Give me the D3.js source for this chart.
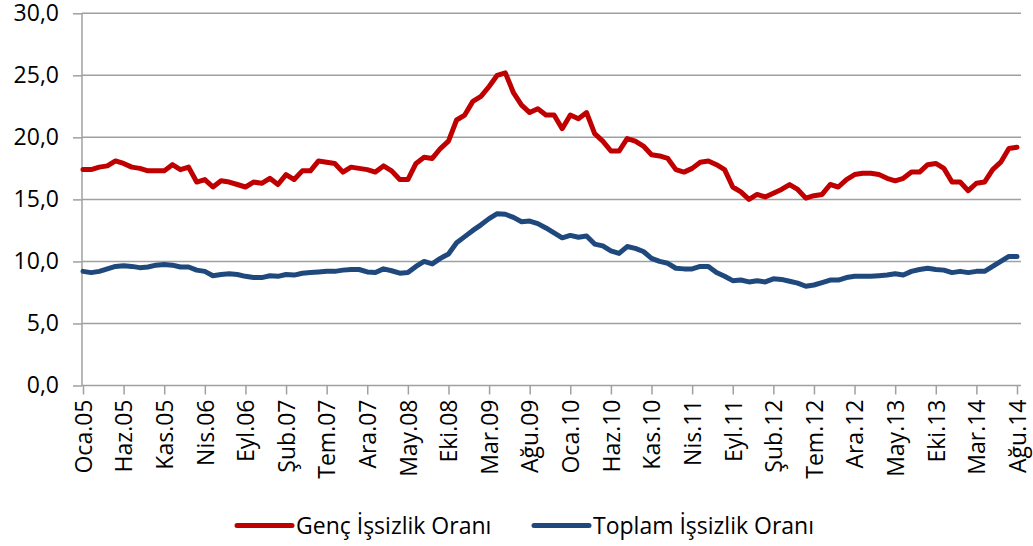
<!DOCTYPE html>
<html>
<head>
<meta charset="utf-8">
<script src="https://cdn.jsdelivr.net/npm/d3@7"></script>
<style>
  html, body { margin: 0; padding: 0; background: #fff; }
  svg { display: block; }
  text { font-family: "Open Sans", sans-serif; fill: #000; }
</style>
</head>
<body>
<svg id="chart" width="1033" height="546"></svg>
<script>
// ---- data ----
const monthNames = ["Oca","Şub","Mar","Nis","May","Haz","Tem","Ağu","Eyl","Eki","Kas","Ara"];
const years = ["05","06","07","08","09","10","11","12","13","14"];
const categories = [];
years.forEach(y => monthNames.forEach(m => categories.push(m + "." + y)));
categories.length = 116; // Oca.05 .. Ağu.14

const tickLabels = ["Oca.05","Haz.05","Kas.05","Nis.06","Eyl.06","Şub.07","Tem.07","Ara.07",
  "May.08","Eki.08","Mar.09","Ağu.09","Oca.10","Haz.10","Kas.10","Nis.11","Eyl.11","Şub.12",
  "Tem.12","Ara.12","May.13","Eki.13","Mar.14","Ağu.14"];

const yTicks = [0, 5, 10, 15, 20, 25, 30];

const gencIssizlik = [
  17.4,17.4,17.6,17.7,18.1,17.9,17.6,17.5,17.3,17.3,17.3,17.8,17.4,17.6,16.4,16.6,16.0,16.5,16.4,16.2,16.0,16.4,16.3,16.7,16.2,17.0,16.6,17.3,17.3,
  18.1,18.0,17.9,17.2,17.6,17.5,17.4,17.2,17.7,17.3,16.6,16.6,17.9,18.4,18.3,19.1,19.7,21.4,21.8,22.9,23.3,24.1,25.0,25.2,23.6,22.6,22.0,22.3,21.8,
  21.8,20.7,21.8,21.5,22.0,20.3,19.7,18.9,18.9,19.9,19.7,19.3,18.6,18.5,18.3,17.4,17.2,17.5,18.0,18.1,17.8,17.4,16.0,15.6,15.0,15.4,15.2,15.5,15.8,
  16.2,15.8,15.1,15.3,15.4,16.2,16.0,16.6,17.0,17.1,17.1,17.0,16.7,16.5,16.7,17.2,17.2,17.8,17.9,17.5,16.4,16.4,15.7,16.3,16.4,17.4,18.0,19.1,19.2
];

const toplamIssizlik = [
  9.2,9.1,9.2,9.4,9.6,9.65,9.6,9.5,9.55,9.7,9.75,9.7,9.55,9.55,9.3,9.2,8.85,8.95,9.0,8.95,8.8,8.7,8.7,8.85,8.8,8.95,8.9,9.05,9.1,
  9.15,9.2,9.2,9.3,9.35,9.35,9.15,9.1,9.4,9.25,9.05,9.1,9.6,10.0,9.8,10.25,10.6,11.5,12.0,12.5,12.95,13.45,13.85,13.8,13.55,13.2,13.25,13.05,12.7,
  12.3,11.9,12.1,11.95,12.05,11.4,11.25,10.85,10.65,11.2,11.05,10.8,10.25,10.0,9.85,9.45,9.4,9.4,9.6,9.6,9.1,8.8,8.45,8.5,8.35,8.45,8.35,8.6,8.55,
  8.4,8.25,8.0,8.1,8.3,8.5,8.5,8.7,8.8,8.8,8.8,8.85,8.9,9.0,8.9,9.2,9.35,9.45,9.35,9.3,9.1,9.2,9.1,9.2,9.2,9.6,10.0,10.4,10.4
];

const seriesNames = ["Genç İşsizlik Oranı", "Toplam İşsizlik Oranı"];
const seriesColors = ["#C00000", "#1F497D"];

// ---- chart ----
const svg = d3.select("#chart");
const fontSize = 23;
const gridColor = "#a0a0a0";

const x = d3.scalePoint().domain(categories).range([83, 1017]);
const y = d3.scaleLinear().domain([0, 30]).range([385.5, 13.3]);
const fmt = v => d3.format(".1f")(v).replace(".", ",");

// gridlines
svg.append("g").selectAll("line").data(yTicks.filter(d => d > 0)).join("line")
  .attr("x1", 82).attr("x2", 1021)
  .attr("y1", d => y(d)).attr("y2", d => y(d))
  .attr("stroke", gridColor).attr("stroke-width", 1.5);

// y axis
const yAxis = d3.axisLeft(y).tickValues(yTicks).tickSize(9).tickPadding(14).tickFormat(fmt);
const gy = svg.append("g").attr("transform", "translate(82,0)").call(yAxis);
gy.select(".domain").attr("stroke", gridColor).attr("stroke-width", 1.5).attr("d", `M0,${y(30)}V${y(0)}`);
gy.selectAll(".tick line").attr("stroke", gridColor).attr("stroke-width", 1.5);
gy.selectAll(".tick text").attr("font-size", fontSize).attr("font-family", "Open Sans").attr("fill", "#000");

// x axis
const xAxis = d3.axisBottom(x).tickValues(tickLabels).tickSize(9).tickSizeOuter(0);
const gx = svg.append("g").attr("transform", `translate(0,${y(0)})`).call(xAxis);
gx.select(".domain").attr("stroke", gridColor).attr("stroke-width", 1.5).attr("d", `M82,0H1021`);
gx.selectAll(".tick line").attr("stroke", gridColor).attr("stroke-width", 1.5);
gx.selectAll(".tick text")
  .attr("font-size", fontSize).attr("font-family", "Open Sans").attr("fill", "#000")
  .attr("text-anchor", "end")
  .attr("transform", "rotate(-90)")
  .attr("x", -14).attr("y", 0).attr("dy", "0.36em");

// lines
const line = d3.line().x((d, i) => x(categories[i])).y(d => y(d));
[gencIssizlik, toplamIssizlik].forEach((data, k) => {
  svg.append("path").datum(data)
    .attr("d", line)
    .attr("fill", "none")
    .attr("stroke", seriesColors[k])
    .attr("stroke-width", 5)
    .attr("stroke-linejoin", "round")
    .attr("stroke-linecap", "round");
});

// legend
const legendItems = [{x: 237}, {x: 534}];
legendItems.forEach((it, k) => {
  const g = svg.append("g").attr("transform", `translate(${it.x},525.5)`);
  g.append("line").attr("x1", 0).attr("x2", 55).attr("y1", 0).attr("y2", 0)
    .attr("stroke", seriesColors[k]).attr("stroke-width", 5).attr("stroke-linecap", "round");
  g.append("text").attr("x", 59).attr("y", 0).attr("dy", "0.36em")
    .attr("font-size", fontSize).text(seriesNames[k]);
});
</script>
</body>
</html>
